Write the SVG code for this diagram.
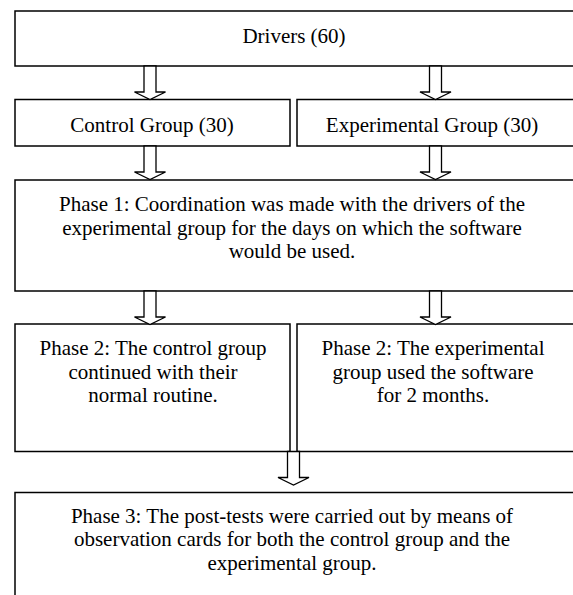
<svg xmlns="http://www.w3.org/2000/svg" xmlns:xlink="http://www.w3.org/1999/xlink" width="573" height="595" viewBox="0 0 573 595">
<style>
.box{fill:#fff;stroke:#000;stroke-width:1.5}
.t{font-family:"Liberation Serif","Times New Roman",serif;font-size:21px;fill:#000;text-anchor:middle}
.arr{fill:#fff;stroke:#000;stroke-width:1.3;stroke-linejoin:miter}
</style>
<defs>
<path id="arrow" class="arr" d="M-6,0 H6 V26 H15.5 L0,33.5 L-15.5,26 H-6 Z"/>
</defs>
<rect width="573" height="595" fill="#fff"/>
<g id="drivers">
<rect class="box" x="15" y="11" width="570" height="55"/>
<text class="t" x="294" y="43">Drivers (60)</text>
</g>
<g id="control-group">
<rect class="box" x="15" y="99.5" width="275" height="46.5"/>
<text class="t" x="152" y="132">Control Group (30)</text>
</g>
<g id="experimental-group">
<rect class="box" x="297" y="99.5" width="290" height="46.5"/>
<text class="t" x="432" y="132">Experimental Group (30)</text>
</g>
<g id="phase1">
<rect class="box" x="15" y="180" width="570" height="111"/>
<text class="t" x="292" y="211">Phase 1: Coordination was made with the drivers of the</text>
<text class="t" x="292" y="234.5">experimental group for the days on which the software</text>
<text class="t" x="292" y="258">would be used.</text>
</g>
<g id="phase2-control">
<rect class="box" x="15" y="324" width="275" height="127.5"/>
<text class="t" x="153" y="355">Phase 2: The control group</text>
<text class="t" x="153" y="378.5">continued with their</text>
<text class="t" x="153" y="402">normal routine.</text>
</g>
<g id="phase2-experimental">
<rect class="box" x="297" y="324" width="290" height="127.5"/>
<text class="t" x="433" y="355">Phase 2: The experimental</text>
<text class="t" x="433" y="378.5">group used the software</text>
<text class="t" x="433" y="402">for 2 months.</text>
</g>
<g id="phase3">
<rect class="box" x="15" y="492.5" width="570" height="120"/>
<text class="t" x="292" y="522.5">Phase 3: The post-tests were carried out by means of</text>
<text class="t" x="292" y="546">observation cards for both the control group and the</text>
<text class="t" x="292" y="569.5">experimental group.</text>
</g>
<g id="connectors">
<use xlink:href="#arrow" href="#arrow" x="150" y="66"/>
<use xlink:href="#arrow" href="#arrow" x="435.5" y="66"/>
<use xlink:href="#arrow" href="#arrow" x="150" y="146"/>
<use xlink:href="#arrow" href="#arrow" x="435.5" y="146"/>
<use xlink:href="#arrow" href="#arrow" x="150" y="291"/>
<use xlink:href="#arrow" href="#arrow" x="435.5" y="291"/>
<use xlink:href="#arrow" href="#arrow" x="293.5" y="451.5"/>
</g>
</svg>
